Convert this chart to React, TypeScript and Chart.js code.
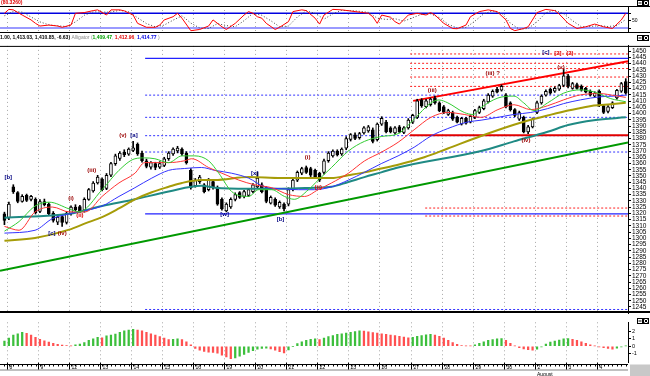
import React, { useEffect, useRef } from 'react';
import { Chart, registerables } from 'chart.js';

Chart.register(...registerables);

const FONT = '"Liberation Sans", Arial, sans-serif';
const X_MIN = -1;
const X_MAX = 140.5;
const AXIS_W = 22;

// ---------- categories (days) ----------
const dayLabels = ['8', '9', '12', '13', '14', '15', '16', '19', '20', '21', '22', '23', '26', '27', '28', '29', '30', '2', '3', '4'];
const dayFirstBar = [1, 8, 15, 22, 29, 36, 43, 50, 57, 64, 71, 78, 85, 92, 99, 106, 113, 120, 127, 134];
const monthLabel = 'August';
const monthDay = 17;

// ---------- candles ----------
const barOpen = [1319.7, 1316.6, 1341.3, 1336.7, 1329.7, 1334.4, 1331.3, 1331.3, 1321.5, 1329.5,
  1327.4, 1320, 1313, 1317.4, 1312.7, 1319.7, 1325, 1325.5, 1322.5, 1331.3,
  1338, 1344.4, 1347.5, 1340, 1350.6, 1359.9, 1364, 1369.2, 1367.5, 1370.5,
  1375.4, 1368.4, 1362.2, 1357, 1360, 1357, 1358.4, 1363.8, 1367.6, 1370,
  1371.5, 1368.4, 1354.5, 1342.1, 1345.5, 1342.9, 1339, 1345.5, 1340.6, 1331.3,
  1322, 1325.1, 1331.3, 1336.7, 1333.6, 1334.4, 1337.5, 1341.3, 1342.9, 1340.6,
  1328.2, 1331.3, 1325.1, 1327.4, 1327.4, 1339, 1346.7, 1352.2, 1356.8, 1356,
  1354.5, 1352.2, 1352.9, 1362.2, 1366.1, 1370, 1367.6, 1372.3, 1379.2, 1383,
  1380.8, 1384.6, 1386.2, 1387, 1379, 1391.6, 1393.2, 1388.5, 1384.6, 1389.3,
  1385, 1388.5, 1393.2, 1397, 1410.9, 1405.5, 1407.1, 1412.5, 1408.6, 1405.5,
  1399.3, 1400.9, 1397, 1391.6, 1396.2, 1393.2, 1397, 1400.9, 1404, 1409.4,
  1414, 1419.5, 1418.7, 1414.8, 1408.6, 1403.2, 1395.5, 1397, 1385.4, 1389.3,
  1400.9, 1408.6, 1414.8, 1419.5, 1417.9, 1419.5, 1422.5, 1430.3, 1420.2, 1423.3,
  1421.8, 1420.2, 1417.9, 1414, 1417.9, 1406.3, 1401.7, 1404.8, 1412.5, 1418,
  1425.6];
const barHigh = [1321, 1329, 1343, 1337.5, 1335, 1335.5, 1334.5, 1332.5, 1331, 1331.5,
  1328.5, 1321.5, 1318.5, 1318.5, 1321.5, 1326, 1327, 1326.5, 1332.5, 1340,
  1345.5, 1350.5, 1348.5, 1352, 1361, 1367.5, 1369.5, 1371, 1372.5, 1377.7,
  1376.5, 1370, 1363.5, 1361.5, 1361, 1361.5, 1365, 1369.5, 1372.5, 1373.8,
  1372.5, 1369.5, 1356, 1348, 1350.5, 1344, 1348, 1347, 1342, 1332.5,
  1328.5, 1332.5, 1336.5, 1337.5, 1338.5, 1340, 1344, 1352.9, 1344.5, 1341.5,
  1334, 1332.5, 1330, 1328.5, 1340.5, 1348, 1354, 1357, 1358, 1357,
  1355.5, 1353, 1363.5, 1369.5, 1371, 1371, 1372.5, 1381.5, 1384, 1384.5,
  1385, 1389.5, 1390.5, 1388.5, 1392.5, 1397.5, 1394.5, 1389.5, 1389.5, 1390.5,
  1389.5, 1396, 1399.5, 1411.5, 1412, 1411.5, 1412.5, 1414, 1409.5, 1406.5,
  1403.5, 1402, 1398, 1397, 1397, 1399, 1403.5, 1406, 1411.5, 1416,
  1419, 1421, 1423, 1416, 1409.5, 1404, 1402, 1398, 1390.5, 1396.5,
  1410, 1415, 1419, 1420.5, 1421.5, 1423.5, 1435.7, 1431.5, 1425, 1424.5,
  1423, 1421, 1419, 1417.5, 1419, 1407, 1406.5, 1409.5, 1419.5, 1425,
  1428];
const barLow = [1311, 1315, 1336, 1328.5, 1329, 1329.5, 1330, 1319.5, 1320.5, 1326,
  1318.5, 1313, 1311, 1309.6, 1311.5, 1318.5, 1322, 1320.5, 1321, 1330.5,
  1337, 1343.5, 1338, 1339, 1349.5, 1358.5, 1362.5, 1365.5, 1366.5, 1369.5,
  1366.5, 1361, 1356.5, 1355.5, 1355, 1356, 1357.5, 1362.5, 1366.5, 1368.5,
  1366.5, 1359.5, 1339.5, 1341, 1344, 1336.5, 1338, 1339.5, 1326.5, 1322.5,
  1321.2, 1324, 1330, 1332, 1332.5, 1333.5, 1336.5, 1340.5, 1336.5, 1328.5,
  1327.5, 1325.5, 1324, 1322, 1326, 1338, 1345.5, 1351, 1352, 1349.5,
  1348, 1345.5, 1351.5, 1361, 1365, 1366, 1366.5, 1371, 1378, 1379,
  1379.5, 1383.5, 1385, 1376.5, 1378, 1390.5, 1384.5, 1384.5, 1383.5, 1384.5,
  1384, 1387.5, 1392, 1396, 1405, 1404.5, 1406, 1407.5, 1401.5, 1400,
  1398.5, 1394.5, 1392.5, 1390.8, 1391.5, 1392.5, 1396, 1400, 1403, 1408.5,
  1413, 1416.5, 1418, 1404.5, 1402, 1397.5, 1394.5, 1384.5, 1383.9, 1388.5,
  1400, 1407.5, 1414, 1415.5, 1417, 1418.5, 1421.5, 1420.5, 1419.5, 1419.5,
  1418, 1416.5, 1414, 1413, 1405.5, 1400, 1400.5, 1404, 1411.5, 1417,
  1415.5];
const barClose = [1314.3, 1327.4, 1337.5, 1329.7, 1333.6, 1330.5, 1333.6, 1320.5, 1329.5, 1327,
  1319.7, 1314.3, 1317, 1312.7, 1320, 1325.1, 1323, 1321.5, 1331.3, 1339,
  1344.4, 1349.1, 1339, 1350.6, 1359.9, 1366.1, 1368.4, 1367, 1371.5, 1372.5,
  1367.6, 1362.2, 1357.6, 1360.7, 1356.8, 1360, 1363.8, 1368.4, 1371.5, 1372.3,
  1367.6, 1360.7, 1340.6, 1346.7, 1349.1, 1337.5, 1346.7, 1340.6, 1327.4, 1323.6,
  1327.4, 1331.3, 1335.1, 1332.8, 1337.5, 1339, 1342.9, 1348.3, 1337.5, 1329.7,
  1332.8, 1326.6, 1328.9, 1323.6, 1339, 1346.7, 1352.9, 1356, 1352.9, 1350.6,
  1349.1, 1346.7, 1362.2, 1368.4, 1370, 1366.9, 1371.5, 1380, 1383.1, 1380,
  1383.9, 1388.5, 1389.3, 1377.7, 1391.6, 1396.2, 1385.4, 1385.4, 1388.5, 1385.4,
  1388.5, 1394.7, 1398.6, 1410.2, 1406.3, 1410.2, 1411.7, 1408.6, 1402.4, 1400.9,
  1402.4, 1395.5, 1393.2, 1396.2, 1392.4, 1397.8, 1402.4, 1404.8, 1410.2, 1414.8,
  1417.9, 1417.1, 1421.8, 1405.5, 1403.2, 1398.6, 1400.9, 1385.4, 1389.3, 1395.5,
  1408.6, 1414, 1417.9, 1416.4, 1420.2, 1422.5, 1430.3, 1421.8, 1424.1, 1420.2,
  1418.7, 1417.1, 1414.8, 1416.4, 1406.3, 1400.9, 1405.5, 1408.6, 1418.7, 1424.1,
  1416.4];

// ---------- moving averages ----------
const lipsBar = [0, 3.3, 6.9, 10.1, 14.6, 16.8, 22, 25.8, 29.4, 31.6, 33.9, 37, 40, 42.9, 46, 48.3, 51.2, 55, 57.3, 60.2, 63.1, 65.3, 68.5, 70.7, 73.7, 77.5, 81.1, 84.9, 88.7, 92.3, 96.1, 97.9, 99.9, 103.6, 105.6, 107.4, 111.2, 114.8, 117, 119.3, 122.4, 126, 129.8, 133.2, 136.6, 140];
const lipsPrice = [1305.8, 1313.5, 1325.9, 1329.0, 1323.6, 1321.2, 1339.0, 1354.5, 1363.8, 1364.5, 1363.8, 1360.7, 1366.1, 1366.1, 1362.2, 1352.2, 1337.5, 1333.6, 1339.0, 1339.0, 1333.6, 1331.3, 1339.0, 1346.7, 1356.8, 1370.0, 1377.7, 1381.6, 1383.9, 1395.5, 1408.6, 1410.9, 1408.6, 1400.9, 1399.3, 1404.8, 1412.5, 1414.0, 1408.6, 1402.4, 1408.6, 1416.4, 1419.0, 1417.0, 1412.0, 1409.5];
const teethBar = [0, 3.3, 6.9, 10.8, 14.6, 18.2, 22, 25.8, 29.4, 31.6, 37, 40.6, 42.2, 46, 49, 52.8, 56.4, 60.2, 64, 67.6, 70.7, 73.7, 77.5, 81.1, 84.9, 88.7, 92.3, 96.1, 99.9, 103.6, 107.4, 111.2, 114.8, 118.6, 122.4, 126, 129.8, 134.3, 137.3, 140];
const teethPrice = [1309.6, 1306.5, 1321.2, 1325.1, 1321.2, 1321.2, 1333.6, 1344.4, 1352.2, 1360.7, 1360.7, 1362.2, 1363.8, 1356.8, 1352.2, 1346.7, 1342.9, 1340.6, 1335.1, 1333.6, 1339.0, 1344.4, 1352.2, 1362, 1369, 1377, 1387.0, 1397.0, 1400.9, 1399.3, 1397.0, 1403.2, 1407.1, 1403.2, 1406.3, 1411, 1415, 1416, 1414.5, 1413.0];
const jawBar = [0, 6.9, 10.8, 14.6, 22, 25.8, 29.4, 33.2, 37, 40.6, 44.4, 47.4, 51.2, 55, 58.6, 62.4, 66.2, 69.8, 73.7, 77.5, 81.1, 84.9, 88.7, 92.3, 96.1, 99.9, 104.3, 107.4, 111.2, 114.8, 118.6, 122.4, 126, 129.8, 134.3, 137.3, 140];
const jawPrice = [1304.2, 1306.5, 1315.8, 1319.7, 1325.9, 1333.6, 1340.6, 1348.3, 1354.5, 1356.0, 1356.8, 1354.5, 1352.2, 1348.3, 1341.3, 1339.8, 1339.0, 1339.0, 1341.3, 1346.7, 1352.9, 1359.9, 1366.1, 1373, 1382, 1388, 1393.2, 1394.7, 1397, 1399.3, 1400.9, 1404, 1408, 1411, 1413.5, 1414, 1414.8];
const oliveBar = [0, 6.9, 14.6, 18.2, 22, 25.8, 29.4, 33.2, 37, 40, 44.4, 47.4, 55, 62.4, 69.8, 73.7, 77.5, 81.1, 84.9, 88.7, 94.6, 99.9, 107.4, 114.8, 118.6, 122.4, 127, 129.8, 132.8, 136.6, 140];
const olivePrice = [1298.0, 1300.3, 1307, 1312, 1317, 1324, 1331.3, 1337, 1341.3, 1344.4, 1346.7, 1346.7, 1349.1, 1348.3, 1348.3, 1348.3, 1350.6, 1352.9, 1356.0, 1359, 1365, 1372, 1382, 1391, 1395, 1398.5, 1402.5, 1404.5, 1406.5, 1407.5, 1408.6];
const tealBar = [0, 14.6, 22, 29.4, 37, 44.4, 47.4, 55, 62.4, 69.8, 73.7, 77.5, 81.1, 84.9, 88.7, 107.4, 114.8, 122.4, 127, 132.8, 140];
const tealPrice = [1316.6, 1319.7, 1325.9, 1331.3, 1337.5, 1342.1, 1340.6, 1339.8, 1339.8, 1340.6, 1341.3, 1345.2, 1349.1, 1352.9, 1356.8, 1370.0, 1377.7, 1385.4, 1390.8, 1394.7, 1397.0];

// ---------- levels & trend lines ----------
const blueSolidPrices = [1444.2, 1319.7];
const blueDottedPrices = [1414.8, 1397.0, 1382.3, 1369.2, 1243.0];
const blueLevelStart = 31.7;
const redDottedUpper = [1447.8, 1440.3, 1436.1, 1429.3, 1421.8];
const redDottedUpperStart = 91.4;
const redDottedLower = [1324.3, 1317.9];
const redDottedLowerStart = 94.8;
const redSupport = 1382.7;
const redSupportStart = 91.4;
const redTrendBar = [92.1, 140.5];
const redTrendPrice = [1410.2, 1441.9];
const greenTrendBar = [-1, 140.5];
const greenTrendPrice = [1274.1, 1376.9];

// ---------- wave labels ----------
const annoText = ['[b]', '[c]', '(iv)', '(i)', '(ii)', '(iii)', '(v)', '[a]', '[w]', '[x]', '[b]', '(i)', '(ii)', '(iii)', '(iii) ?', '(iv)', '(v)', '[c]', '[2]', '(2)'];
const annoBar = [0.85, 10.7, 13, 15, 17, 19.7, 26.7, 29.2, 49.6, 56.4, 62.2, 68.3, 70.7, 96.4, 110, 117.5, 125.4, 122, 124.7, 127.4];
const annoPrice = [1349.1, 1304.2, 1304.2, 1332.1, 1318.1, 1354.5, 1382.3, 1382.3, 1318.9, 1352.2, 1315.1, 1365.3, 1340.6, 1418.7, 1432.6, 1378.5, 1437.2, 1448.8, 1448, 1448];
const annoColor = ['#000080', '#000080', '#990000', '#990000', '#dd0000', '#990000', '#990000', '#000080', '#000080', '#000080', '#000080', '#990000', '#dd0000', '#990000', '#990000', '#990000', '#990000', '#000080', '#dd0000', '#dd0000'];

// ---------- price axis ----------
const priceTicks = [1245, 1250, 1255, 1260, 1265, 1270, 1275, 1280, 1285, 1290, 1295, 1300, 1305, 1310, 1315, 1320, 1325, 1330, 1335, 1340, 1345, 1350, 1355, 1360, 1365, 1370, 1375, 1380, 1385, 1390, 1395, 1400, 1405, 1410, 1415, 1420, 1425, 1430, 1435, 1440, 1445, 1450];

// ---------- stochastic ----------
const stochTitle = '(80.3260)';
const stochBar = [0, 1, 2, 4, 6, 7, 8, 10, 12, 13, 15, 16, 18, 20, 21, 23, 24, 26, 27, 29, 30, 32, 34, 35, 36, 38, 39, 40, 42, 44, 46, 47, 49, 50, 52, 54, 55, 56, 57, 58, 59, 61, 62, 64, 65, 67, 68, 70, 71, 72, 74, 76, 79, 82, 83, 84, 85, 87, 88, 89, 91, 93, 95, 96, 97, 99, 101, 102, 104, 105, 107, 109, 111, 113, 114, 115, 117, 118, 120, 122, 124, 125, 127, 129, 131, 133, 135, 137, 139, 140];
const stochK = [80, 96, 94, 73, 53, 39, 28, 32, 28, 23, 32, 80, 83, 91, 94, 73, 94, 94, 90, 73, 39, 23, 23, 32, 53, 66, 80, 60, 9, 14, 28, 53, 25, 14, 39, 73, 87, 80, 66, 60, 39, 14, 23, 46, 87, 94, 91, 60, 36, 73, 96, 94, 87, 80, 66, 39, 73, 64, 46, 36, 73, 80, 73, 83, 73, 39, 18, 17, 32, 66, 87, 94, 87, 53, 18, 9, 18, 25, 83, 96, 91, 77, 39, 18, 25, 36, 25, 18, 53, 80];
const stochDBar = [0, 2, 4, 6, 8, 10, 12, 14, 16, 18, 20, 22, 24, 26, 28, 30, 32, 34, 36, 38, 40, 42, 44, 46, 48, 50, 52, 54, 56, 58, 60, 62, 64, 66, 68, 70, 72, 74, 76, 79, 82, 84, 86, 88, 90, 92, 94, 96, 98, 100, 102, 104, 106, 108, 110, 112, 114, 116, 118, 120, 122, 124, 126, 128, 130, 132, 134, 136, 138, 140];
const stochD = [70, 88, 85, 65, 45, 33, 29, 26, 45, 72, 86, 85, 85, 92, 86, 62, 38, 25, 32, 52, 70, 40, 20, 18, 38, 30, 25, 50, 80, 72, 50, 25, 28, 65, 90, 80, 56, 78, 92, 90, 84, 60, 55, 58, 48, 62, 76, 78, 62, 35, 20, 22, 48, 78, 90, 80, 40, 15, 18, 45, 82, 93, 78, 50, 25, 26, 30, 26, 30, 55];
const stochLevels = [80, 20];
const stochTicks = [20, 50, 80];

// ---------- legend row ----------
const legendParts = [
  { t: '1.00, 1,413.03, 1,410.85, -6.63) ', c: '#000000', b: true },
  { t: 'Alligator (', c: '#8c8c8c', b: false },
  { t: '1,409.47', c: '#00a000', b: true },
  { t: ', ', c: '#8c8c8c', b: false },
  { t: '1,412.96', c: '#e00000', b: true },
  { t: ', ', c: '#8c8c8c', b: false },
  { t: '1,414.77', c: '#0000e0', b: true },
  { t: ' )', c: '#8c8c8c', b: false },
];

// ---------- oscillator ----------
const oscValues = [0.7, 1.1, 1.5, 1.7, 1.9, 1.75, 1.5, 1.2, 0.95, 0.75,
  0.55, 0.4, 0.25, 0.15, 0.08, 0.05, 0.2, 0.3, 0.5, 0.8,
  1.0, 1.2, 1.15, 1.4, 1.5, 1.65, 1.9, 2.1, 2.2, 2.3,
  2.2, 2.1, 1.9, 1.7, 1.5, 1.3, 1.1, 0.9, 0.95, 1.0,
  0.9, 0.6, 0.2, -0.3, -0.55, -0.7, -0.8, -0.85, -0.95, -1.2,
  -1.45, -1.7, -1.6, -1.35, -1.1, -0.85, -0.6, -0.4, -0.3, -0.25,
  -0.35, -0.55, -0.75, -0.9, -0.5, -0.05, 0.35, 0.6, 0.8, 0.95,
  1.0, 0.9, 1.1, 1.3, 1.45, 1.6, 1.7, 1.8, 1.9, 2.0,
  2.1, 2.05, 1.95, 1.85, 1.8, 1.7, 1.6, 1.5, 1.45, 1.35,
  1.25, 1.15, 1.2, 1.35, 1.45, 1.55, 1.6, 1.5, 1.35, 1.1,
  0.8, 0.5, 0.25, 0.1, 0.05, 0.03, 0.2, 0.4, 0.6, 0.8,
  0.9, 1.0, 1.05, 0.8, 0.4, 0.05, -0.2, -0.35, -0.45, -0.55,
  -0.4, -0.1, 0.3, 0.55, 0.7, 0.85, 1.0, 1.05, 0.95, 0.8,
  0.6, 0.4, 0.2, 0.05, -0.1, -0.2, -0.3, -0.4, -0.25, -0.1,
  0.05];
const oscTicks = [-1, 0, 1, 2];

// ---------- helpers ----------
const pts = (xs: number[], ys: number[]) => xs.map((x, i) => ({ x, y: ys[i] }));

const xScale = () => ({
  type: 'linear', display: false, min: X_MIN, max: X_MAX, offset: false,
  grid: { display: false, offset: false },
});

const rightAxis = (min: number, max: number, ticks: number[], size: number, label?: (v: number) => string) => ({
  type: 'linear',
  position: 'right',
  min, max,
  afterFit: (s: any) => { s.width = AXIS_W; },
  afterBuildTicks: (s: any) => { s.ticks = ticks.map((v) => ({ value: v })); },
  ticks: {
    autoSkip: false, maxRotation: 0, padding: 1, color: '#000',
    font: { family: FONT, size },
    callback: (v: any) => (label ? label(Number(v)) : String(v)),
  },
  grid: { drawOnChartArea: false, drawTicks: true, tickLength: 3, color: '#000' },
  border: { display: true, color: '#000', width: 1 },
});

const dayGrid = {
  id: 'dayGrid',
  beforeDatasetsDraw(chart: any) {
    const { ctx, chartArea: a, scales } = chart;
    const x = scales.x;
    ctx.save();
    ctx.strokeStyle = '#a8a8a8';
    ctx.lineWidth = 1;
    ctx.setLineDash([1, 3]);
    dayFirstBar.forEach((b) => {
      const px = Math.round(x.getPixelForValue(b - 0.5)) + 0.5;
      ctx.beginPath();
      ctx.moveTo(px, a.top);
      ctx.lineTo(px, a.bottom);
      ctx.stroke();
    });
    ctx.restore();
  },
};

const drawIcons = (ctx: any, y: number) => {
  ctx.save();
  ctx.strokeStyle = '#000';
  ctx.lineWidth = 1;
  ctx.fillStyle = '#fff';
  [637.5, 643.5].forEach((x, k) => {
    ctx.fillRect(x, y, 5, 5);
    ctx.strokeRect(x, y, 5, 5);
    ctx.beginPath();
    if (k === 0) { ctx.moveTo(x + 1, y + 2.5); ctx.lineTo(x + 4, y + 2.5); }
    else { ctx.moveTo(x + 1, y + 1); ctx.lineTo(x + 4, y + 4); ctx.moveTo(x + 4, y + 1); ctx.lineTo(x + 1, y + 4); }
    ctx.stroke();
  });
  ctx.restore();
};

const stochHeader = {
  id: 'stochHeader',
  afterDraw(chart: any) {
    const { ctx, chartArea: a } = chart;
    ctx.save();
    ctx.strokeStyle = '#000';
    ctx.lineWidth = 1;
    ctx.beginPath(); ctx.moveTo(0, a.top + 0.5); ctx.lineTo(650, a.top + 0.5); ctx.stroke();
    ctx.beginPath(); ctx.moveTo(0, a.bottom + 0.5); ctx.lineTo(650, a.bottom + 0.5); ctx.stroke();
    ctx.textBaseline = 'middle';
    ctx.font = `bold 5px ${FONT}`;
    ctx.fillStyle = '#e00000';
    ctx.fillText(stochTitle, 1, 3);
    let x = 0;
    const y = a.bottom + 5.5;
    legendParts.forEach((p) => {
      ctx.font = `${p.b ? 'bold ' : ''}5px ${FONT}`;
      ctx.fillStyle = p.c;
      ctx.fillText(p.t, x, y);
      x += ctx.measureText(p.t).width;
    });
    ctx.restore();
    drawIcons(ctx, 0.5);
    drawIcons(ctx, a.bottom + 3.5);
  },
};

const mainFrame = {
  id: 'mainFrame',
  afterDraw(chart: any) {
    const { ctx, chartArea: a, scales } = chart;
    const x = scales.x;
    const y = scales.y;
    ctx.save();
    ctx.textAlign = 'center';
    ctx.textBaseline = 'middle';
    ctx.font = `bold 6px ${FONT}`;
    annoText.forEach((t, i) => {
      ctx.fillStyle = annoColor[i];
      ctx.fillText(t, x.getPixelForValue(annoBar[i]), y.getPixelForValue(annoPrice[i]));
    });
    ctx.strokeStyle = '#000';
    ctx.lineWidth = 1;
    ctx.beginPath(); ctx.moveTo(0, a.top + 0.5); ctx.lineTo(650, a.top + 0.5); ctx.stroke();
    ctx.lineWidth = 2;
    ctx.beginPath(); ctx.moveTo(0, a.bottom - 1); ctx.lineTo(650, a.bottom - 1); ctx.stroke();
    ctx.restore();
  },
};

const dateAxis = {
  id: 'dateAxis',
  afterDraw(chart: any) {
    const { ctx, chartArea: a, scales } = chart;
    const x = scales.x;
    const y0 = Math.round(a.bottom + 2) + 0.5;
    ctx.save();
    ctx.fillStyle = '#c0c0c0';
    ctx.fillRect(0, y0 + 4.5, a.right, 2);
    ctx.strokeStyle = '#000';
    ctx.lineWidth = 1;
    ctx.beginPath(); ctx.moveTo(0, y0); ctx.lineTo(a.right, y0); ctx.stroke();
    for (let i = 0; i < barClose.length; i++) {
      const px = Math.round(x.getPixelForValue(i)) + 0.5;
      ctx.beginPath(); ctx.moveTo(px, y0); ctx.lineTo(px, y0 + 2); ctx.stroke();
    }
    ctx.font = `5px ${FONT}`;
    ctx.fillStyle = '#000';
    ctx.textBaseline = 'top';
    dayFirstBar.forEach((b, k) => {
      const px = Math.round(x.getPixelForValue(b - 0.5)) + 0.5;
      ctx.beginPath(); ctx.moveTo(px, y0 - 2); ctx.lineTo(px, y0 + 5); ctx.stroke();
      ctx.fillText(dayLabels[k], px + 2, y0 + 0.5);
    });
    const mpx = Math.round(x.getPixelForValue(dayFirstBar[monthDay] - 0.5));
    ctx.fillText(monthLabel, mpx + 2, y0 + 7.5);
    ctx.fillStyle = '#c8c8c8';
    ctx.fillRect(a.right + 2, y0, 650 - a.right - 2, 20);
    ctx.restore();
    drawIcons(ctx, 0.5);
  },
};

const baseOptions = (padding: any) => ({
  animation: false,
  responsive: false,
  devicePixelRatio: 1,
  events: [],
  layout: { padding },
  plugins: { legend: { display: false }, tooltip: { enabled: false } },
});

const lineDs = (data: any[], color: string, width: number, order: number, extra: any = {}) => ({
  type: 'line', data, borderColor: color, borderWidth: width, pointRadius: 0, fill: false, order, ...extra,
});

export default function App() {
  const stochRef = useRef<HTMLCanvasElement>(null);
  const mainRef = useRef<HTMLCanvasElement>(null);
  const oscRef = useRef<HTMLCanvasElement>(null);

  useEffect(() => {
    Chart.defaults.font.family = FONT;
    const charts: Chart[] = [];

    // ---- stochastic panel ----
    charts.push(new Chart(stochRef.current as HTMLCanvasElement, {
      type: 'line',
      data: {
        datasets: [
          lineDs(pts(stochBar, stochK), '#ff0000', 1, 0),
          lineDs(pts(stochDBar, stochD), '#404040', 1, 1, { borderDash: [1, 2] }),
          lineDs([{ x: X_MIN, y: stochLevels[0] }, { x: X_MAX, y: stochLevels[0] }], '#0000e0', 1.5, 2),
          lineDs([{ x: X_MIN, y: stochLevels[1] }, { x: X_MAX, y: stochLevels[1] }], '#9a9aff', 2, 3),
        ] as any,
      },
      options: {
        ...baseOptions({ top: 6, bottom: 9, left: 0, right: 0 }),
        scales: {
          x: xScale(),
          y: rightAxis(3.7, 109.8, stochTicks, 5, (v) => (v === 50 ? '50' : '')),
        },
      } as any,
      plugins: [dayGrid, stochHeader],
    }));

    // ---- main price panel ----
    const upColor = barClose.map((c, i) => (c >= barOpen[i] ? '#ffffff' : '#000000'));
    const levelDs: any[] = [];
    blueSolidPrices.forEach((p) => levelDs.push(lineDs([{ x: blueLevelStart, y: p }, { x: X_MAX, y: p }], '#2222ff', 1.3, 5)));
    blueDottedPrices.forEach((p) => levelDs.push(lineDs([{ x: blueLevelStart, y: p }, { x: X_MAX, y: p }], '#3333ff', 1, 6, { borderDash: [2, 2] })));
    redDottedUpper.forEach((p) => levelDs.push(lineDs([{ x: redDottedUpperStart, y: p }, { x: X_MAX, y: p }], '#ff2020', 1, 6, { borderDash: [2, 2] })));
    redDottedLower.forEach((p) => levelDs.push(lineDs([{ x: redDottedLowerStart, y: p }, { x: X_MAX, y: p }], '#ff2020', 1, 6, { borderDash: [2, 2] })));
    levelDs.push(lineDs([{ x: redSupportStart, y: redSupport }, { x: X_MAX, y: redSupport }], '#e00000', 2, 4));
    levelDs.push(lineDs(pts(redTrendBar, redTrendPrice), '#ff0000', 2, 4));
    levelDs.push(lineDs(pts(greenTrendBar, greenTrendPrice), '#009900', 2, 4));

    const maOpts = { cubicInterpolationMode: 'monotone' };
    charts.push(new Chart(mainRef.current as HTMLCanvasElement, {
      type: 'bar',
      data: {
        datasets: [
          lineDs(pts(lipsBar, lipsPrice), '#33cc33', 1, 0, maOpts),
          lineDs(pts(teethBar, teethPrice), '#ff3333', 1, 0, maOpts),
          lineDs(pts(jawBar, jawPrice), '#3333ff', 1, 0, maOpts),
          lineDs(pts(oliveBar, olivePrice), '#a69c08', 2, 0, maOpts),
          lineDs(pts(tealBar, tealPrice), '#1f8a84', 2, 0, maOpts),
          {
            type: 'bar',
            data: barOpen.map((o, i) => ({ x: i, y: [o, barClose[i]] })),
            backgroundColor: upColor,
            borderColor: '#000000',
            borderWidth: 1,
            borderSkipped: false,
            barThickness: 3,
            grouped: false,
            order: 1,
          },
          {
            type: 'bar',
            data: barHigh.map((h, i) => ({ x: i, y: [barLow[i], h] })),
            backgroundColor: '#000000',
            borderWidth: 0,
            barThickness: 1,
            grouped: false,
            order: 2,
          },
          ...levelDs,
        ] as any,
      },
      options: {
        ...baseOptions(0),
        scales: {
          x: xScale(),
          y: rightAxis(1240.1, 1454.25, priceTicks, 6.5),
        },
      } as any,
      plugins: [dayGrid, mainFrame],
    }));

    // ---- oscillator panel ----
    const oscColors = oscValues.map((v, i) => (i === 0 || v > oscValues[i - 1] ? '#3cbf3c' : '#ff5050'));
    charts.push(new Chart(oscRef.current as HTMLCanvasElement, {
      type: 'bar',
      data: {
        datasets: [{
          type: 'bar',
          data: oscValues.map((v, i) => ({ x: i, y: v })),
          backgroundColor: oscColors,
          barThickness: 1.6,
          grouped: false,
        }] as any,
      },
      options: {
        ...baseOptions({ top: 3, bottom: 14, left: 0, right: 0 }),
        scales: {
          x: xScale(),
          y: rightAxis(-2.14, 3.25, oscTicks, 5.5),
        },
      } as any,
      plugins: [dayGrid, dateAxis],
    }));

    return () => charts.forEach((c) => c.destroy());
  }, []);

  return (
    <div style={{ position: 'absolute', left: 0, top: 0, width: 650, height: 376, background: '#fff', overflow: 'hidden' }}>
      <canvas ref={stochRef} width={650} height={41} style={{ position: 'absolute', left: 0, top: 0, width: 650, height: 41 }} />
      <canvas ref={mainRef} width={650} height={277} style={{ position: 'absolute', left: 0, top: 41, width: 650, height: 277 }} />
      <canvas ref={oscRef} width={650} height={58} style={{ position: 'absolute', left: 0, top: 318, width: 650, height: 58 }} />
    </div>
  );
}
